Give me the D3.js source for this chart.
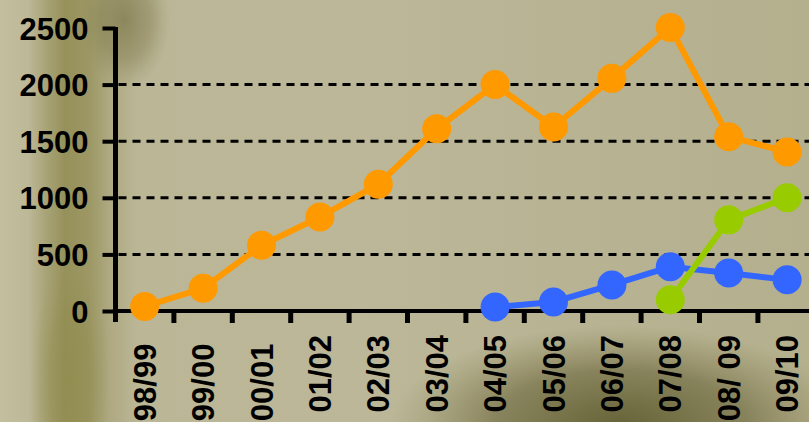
<!DOCTYPE html>
<html><head><meta charset="utf-8">
<script src="https://cdn.jsdelivr.net/npm/d3@7"></script>
<style>
html,body{margin:0;padding:0;overflow:hidden;background:#b9b494;}
svg{display:block;}
text{font-family:"Liberation Sans",Arial,sans-serif;font-weight:bold;fill:#000;}
</style></head>
<body><svg id="chart" width="809" height="422"></svg>
<script>
const categories = ["98/99\u00a0","99/00\u00a0","00/01\u00a0","01/02","02/03","03/04","04/05","05/06","06/07","07/08","08/ 09","09/10"];
const orangeValues = [40, 200, 580, 830, 1120, 1610, 2000, 1625, 2055, 2505, 1540, 1405];
const blueValues = [null, null, null, null, null, null, 35, 80, 230, 390, 335, 275];
const greenValues = [null, null, null, null, null, null, null, null, null, 100, 805, 1000];
const yTicks = [0, 500, 1000, 1500, 2000, 2500];
const gridValues = [500, 1000, 1500, 2000];

const W = 809, H = 422;
const svg = d3.select("#chart");
const defs = svg.append("defs");

// background texture approximation
const g1 = defs.append("linearGradient").attr("id","bgH").attr("x1","0").attr("x2","1").attr("y1","0").attr("y2","0");
[[0,"#c3be9e"],[0.035,"#bdb897"],[0.055,"#aaa579"],[0.08,"#96915b"],[0.11,"#9c9764"],[0.135,"#aea981"],[0.17,"#bbb696"],[0.45,"#bcb798"],[0.7,"#b8b393"],[1,"#b4af8d"]]
  .forEach(([o,c])=>g1.append("stop").attr("offset",o).attr("stop-color",c));
svg.append("rect").attr("width",W).attr("height",H).attr("fill","url(#bgH)");

const rg = (id, c0, o0, c1, o1) => {
  const g = defs.append("radialGradient").attr("id",id).attr("cx","0.5").attr("cy","0.5").attr("r","0.5");
  g.append("stop").attr("offset",0).attr("stop-color",c0).attr("stop-opacity",o0);
  g.append("stop").attr("offset",0.55).attr("stop-color",c0).attr("stop-opacity",o0*0.6);
  g.append("stop").attr("offset",1).attr("stop-color",c1).attr("stop-opacity",o1);
};
rg("bgBR","#5f5b2e",0.9,"#7d7845",0);
rg("bgTL","#7b7647",0.7,"#8a8556",0);
rg("bgBL","#8f8a4a",0.6,"#9a955a",0);
svg.append("ellipse").attr("cx",620).attr("cy",425).attr("rx",230).attr("ry",100).attr("fill","url(#bgBR)");
svg.append("ellipse").attr("cx",125).attr("cy",20).attr("rx",45).attr("ry",70).attr("fill","url(#bgTL)");
svg.append("ellipse").attr("cx",70).attr("cy",380).attr("rx",40).attr("ry",120).attr("fill","url(#bgBL)");

const x0 = 115.5, bw = 58.4;
const x = d3.scaleBand().domain(categories).range([x0, x0 + bw*categories.length]).paddingInner(0).paddingOuter(0);
const y = d3.scaleLinear().domain([0, 2500]).range([311, 28]);

// gridlines
svg.append("g").selectAll("line").data(gridValues).join("line")
  .attr("x1", x0+3).attr("x2", W).attr("y1", d=>y(d)).attr("y2", d=>y(d))
  .attr("stroke","#000").attr("stroke-width",3).attr("stroke-dasharray","8,6");

// y axis
const yAxis = d3.axisLeft(y).tickValues(yTicks).tickSize(13).tickPadding(14).tickFormat(d3.format("d"));
const ya = svg.append("g").attr("transform",`translate(${x0},0)`).call(yAxis);
ya.select(".domain").remove();
ya.selectAll(".tick line").attr("stroke","#000").attr("stroke-width",4);
ya.selectAll(".tick text").attr("font-size",31).attr("font-family","Liberation Sans, Arial, sans-serif").attr("font-weight","bold").attr("fill","#000").attr("dy","0.36em");
svg.append("line").attr("x1",x0).attr("x2",x0).attr("y1",y(2500)-1).attr("y2",y(0)+11).attr("stroke","#000").attr("stroke-width",5);

// x axis
const xAxis = d3.axisBottom(x).tickSize(0).tickFormat("");
const xa = svg.append("g").attr("transform",`translate(0,${y(0)})`).call(xAxis);
xa.select(".domain").attr("stroke","#000").attr("stroke-width",4).attr("d",`M${x0},0H${W}`);
xa.selectAll(".tick").remove();
svg.append("g").selectAll("line").data(categories.slice(1)).join("line")
  .attr("x1", d=>x(d)).attr("x2", d=>x(d)).attr("y1", y(0)).attr("y2", y(0)+12)
  .attr("stroke","#000").attr("stroke-width",5);

svg.append("g").selectAll("text").data(categories).join("text")
  .attr("transform", d=>`translate(${x(d)+x.bandwidth()/2},335) rotate(-90)`)
  .attr("text-anchor","end").attr("dy","0.36em").attr("font-size",31)
  .style("white-space","pre")
  .text(d=>d);

// series
const series = [
  {vals: orangeValues, color: "#ff9900"},
  {vals: blueValues, color: "#3366ff"},
  {vals: greenValues, color: "#99cc00"}
];
const line = d3.line().defined(d=>d.v!=null).x(d=>x(d.c)+x.bandwidth()/2).y(d=>y(d.v));
series.forEach(s=>{
  const pts = categories.map((c,i)=>({c, v:s.vals[i]}));
  const g = svg.append("g");
  g.append("path").datum(pts).attr("d",line).attr("fill","none").attr("stroke",s.color).attr("stroke-width",6);
  g.selectAll("circle").data(pts.filter(p=>p.v!=null)).join("circle")
    .attr("cx", d=>x(d.c)+x.bandwidth()/2).attr("cy", d=>y(d.v)).attr("r",14.5).attr("fill",s.color);
});
</script></body></html>
